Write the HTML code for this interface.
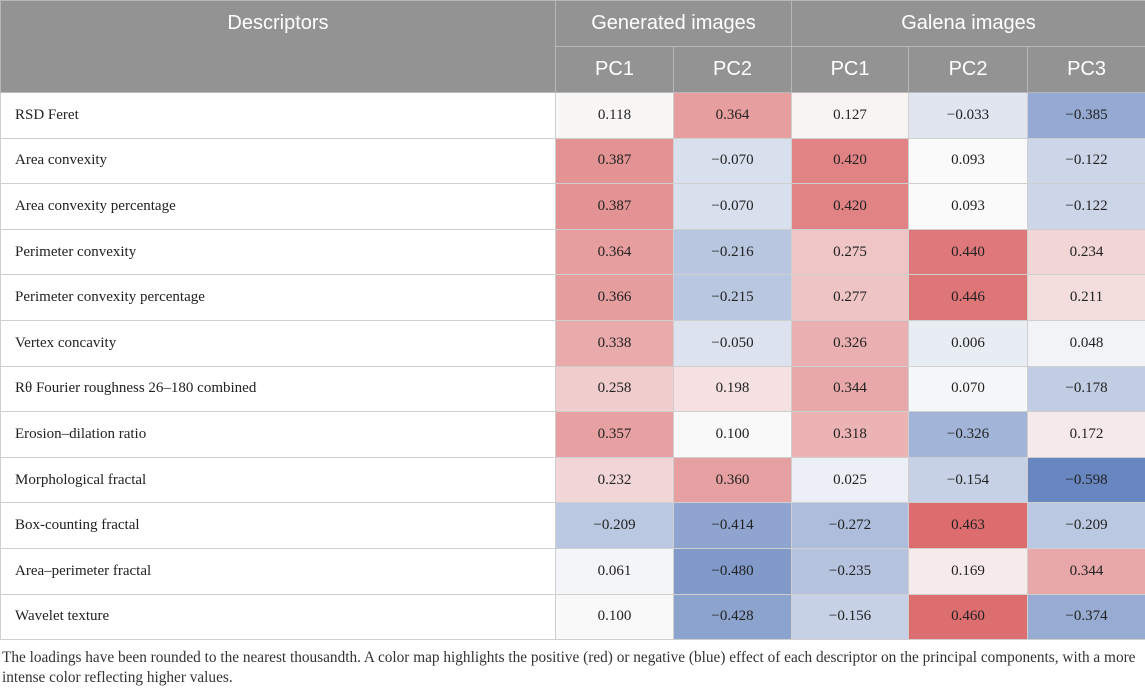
<!DOCTYPE html>
<html><head><meta charset="utf-8"><style>
body{margin:0;width:1145px;height:688px;background:#fff;overflow:hidden;font-family:"Liberation Serif",serif;}
table{position:absolute;left:0;top:0;border-collapse:collapse;width:1145px;table-layout:fixed;}
th{background:#939393;color:#fff;font-family:"Liberation Sans",sans-serif;font-weight:normal;font-size:20px;height:45px;padding:0;border:1px solid #b8b8b8;}
th.desc{vertical-align:top;padding-top:11px;}
td{height:44.6px;padding:0;border:1px solid #cfcfcf;font-size:15px;color:#222;text-align:center;}
td.lab{text-align:left;padding-left:14px;}
#note{position:absolute;left:2px;top:648px;width:1140px;font-size:15.3px;color:#333;line-height:20px;}
</style></head><body>
<table>
<colgroup><col style="width:555px"><col style="width:118px"><col style="width:118px"><col style="width:117px"><col style="width:119px"><col style="width:118px"></colgroup>
<thead>
<tr><th rowspan="2" class="desc">Descriptors</th><th colspan="2">Generated images</th><th colspan="3">Galena images</th></tr>
<tr><th>PC1</th><th>PC2</th><th>PC1</th><th>PC2</th><th>PC3</th></tr>
</thead>
<tbody id="tb"></tbody>
</table>
<div id="note">The loadings have been rounded to the nearest thousandth. A color map highlights the positive (red) or negative (blue) effect of each descriptor on the principal components, with a more intense color reflecting higher values.</div>
<script>
const descriptors=["RSD Feret","Area convexity","Area convexity percentage","Perimeter convexity","Perimeter convexity percentage","Vertex concavity","Rθ Fourier roughness 26–180 combined","Erosion–dilation ratio","Morphological fractal","Box-counting fractal","Area–perimeter fractal","Wavelet texture"];
const genPC1=[0.118,0.387,0.387,0.364,0.366,0.338,0.258,0.357,0.232,-0.209,0.061,0.100];
const genPC2=[0.364,-0.070,-0.070,-0.216,-0.215,-0.050,0.198,0.100,0.360,-0.414,-0.480,-0.428];
const galPC1=[0.127,0.420,0.420,0.275,0.277,0.326,0.344,0.318,0.025,-0.272,-0.235,-0.156];
const galPC2=[-0.033,0.093,0.093,0.440,0.446,0.006,0.070,-0.326,-0.154,0.463,0.169,0.460];
const galPC3=[-0.385,-0.122,-0.122,0.234,0.211,0.048,-0.178,0.172,-0.598,-0.209,0.344,-0.374];
const series=[genPC1,genPC2,galPC1,galPC2,galPC3];
const names=["gen-pc1","gen-pc2","gal-pc1","gal-pc2","gal-pc3"];
const CENTER=0.09;
function color(v){
  const w=[250,250,250];
  let c,t;
  if(v>=CENTER){c=[220,108,110];t=Math.pow(Math.min((v-CENTER)/(0.463-CENTER),1),1.4);}
  else{c=[104,134,192];t=Math.min((CENTER-v)/(CENTER+0.598),1);}
  return 'rgb('+w.map((x,i)=>Math.round(x+(c[i]-x)*t)).join(',')+')';
}
function fmt(v){return (v<0?'−':'')+Math.abs(v).toFixed(3);}
const tb=document.getElementById('tb');
descriptors.forEach((d,r)=>{
  const tr=document.createElement('tr');
  
  
  const l=document.createElement('td');
  l.className='lab';l.textContent=d;
  
  
  tr.appendChild(l);
  series.forEach((s,k)=>{
    const td=document.createElement('td');
    td.textContent=fmt(s[r]);
    td.style.background=color(s[r]);
    
    
    tr.appendChild(td);
  });
  tb.appendChild(tr);
});
</script>
</body></html>
